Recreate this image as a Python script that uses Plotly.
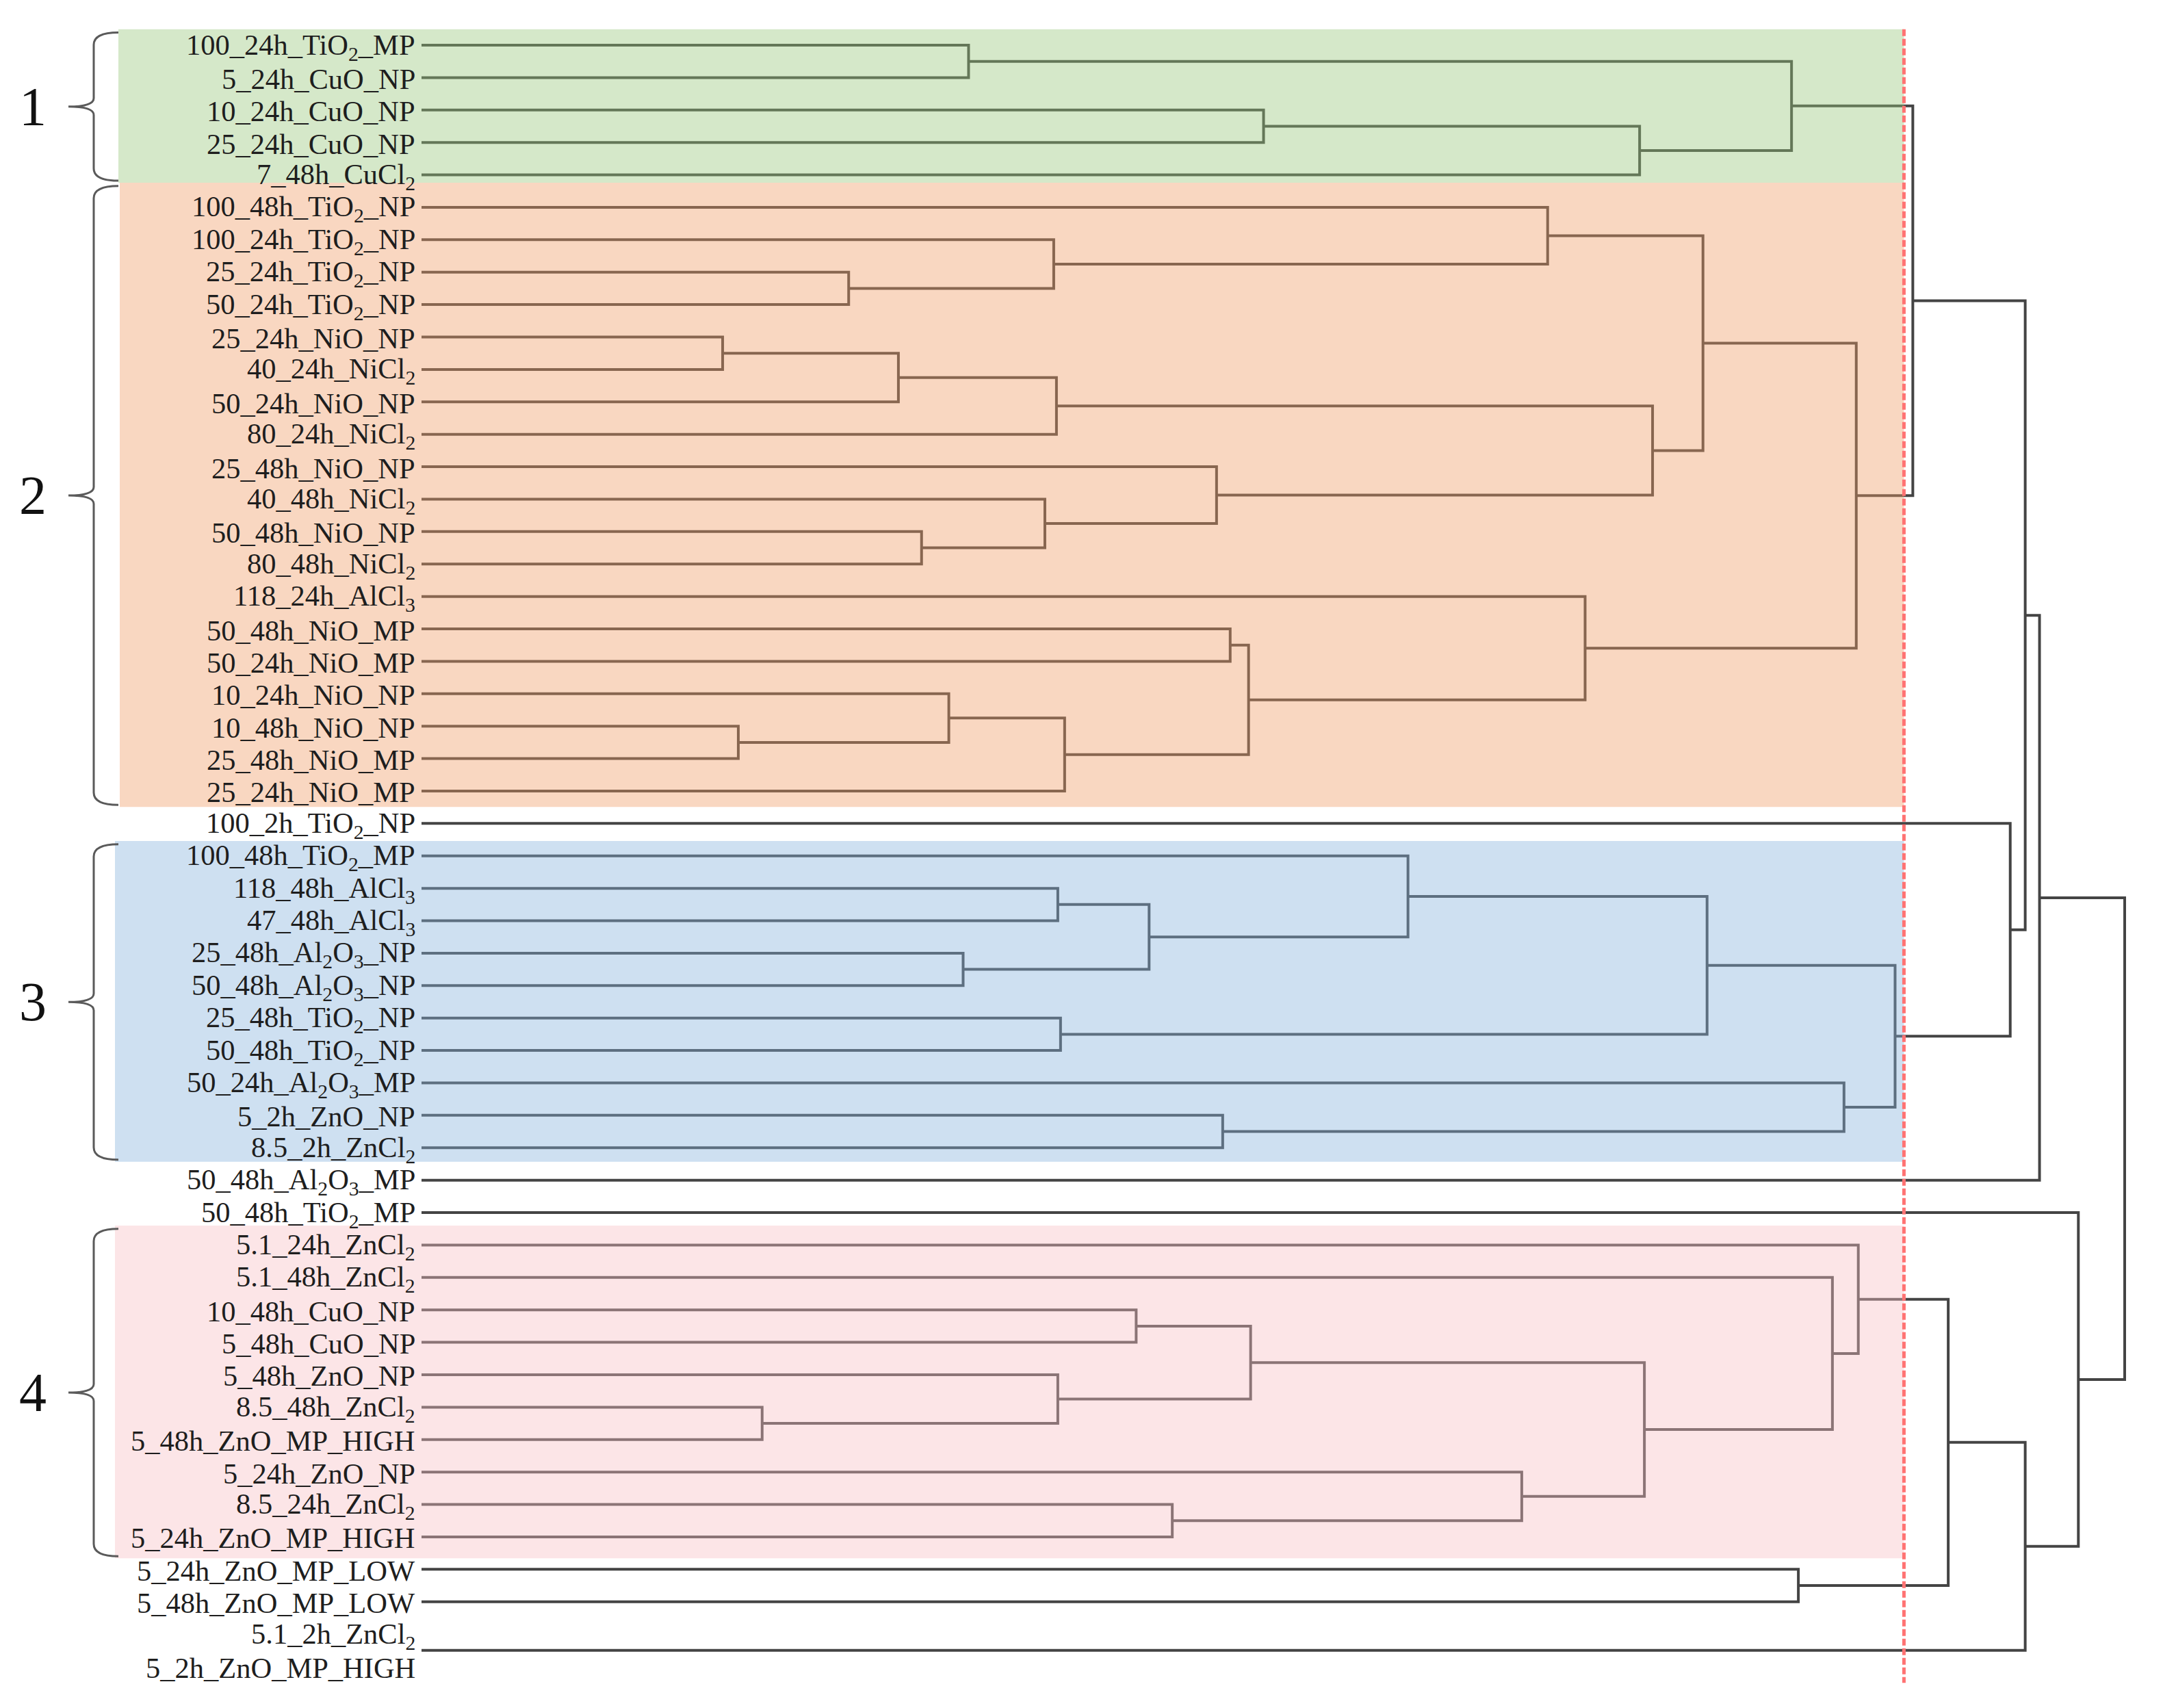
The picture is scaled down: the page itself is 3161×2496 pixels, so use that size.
import plotly.graph_objects as go

# ---------------- data ----------------
LEAF_LABELS = [
    "100_24h_TiO<sub>2</sub>_MP", "5_24h_CuO_NP", "10_24h_CuO_NP", "25_24h_CuO_NP",
    "7_48h_CuCl<sub>2</sub>",
    "100_48h_TiO<sub>2</sub>_NP", "100_24h_TiO<sub>2</sub>_NP", "25_24h_TiO<sub>2</sub>_NP",
    "50_24h_TiO<sub>2</sub>_NP", "25_24h_NiO_NP", "40_24h_NiCl<sub>2</sub>", "50_24h_NiO_NP",
    "80_24h_NiCl<sub>2</sub>", "25_48h_NiO_NP", "40_48h_NiCl<sub>2</sub>", "50_48h_NiO_NP",
    "80_48h_NiCl<sub>2</sub>", "118_24h_AlCl<sub>3</sub>", "50_48h_NiO_MP", "50_24h_NiO_MP",
    "10_24h_NiO_NP", "10_48h_NiO_NP", "25_48h_NiO_MP", "25_24h_NiO_MP",
    "100_2h_TiO<sub>2</sub>_NP",
    "100_48h_TiO<sub>2</sub>_MP", "118_48h_AlCl<sub>3</sub>", "47_48h_AlCl<sub>3</sub>",
    "25_48h_Al<sub>2</sub>O<sub>3</sub>_NP", "50_48h_Al<sub>2</sub>O<sub>3</sub>_NP",
    "25_48h_TiO<sub>2</sub>_NP", "50_48h_TiO<sub>2</sub>_NP",
    "50_24h_Al<sub>2</sub>O<sub>3</sub>_MP", "5_2h_ZnO_NP", "8.5_2h_ZnCl<sub>2</sub>",
    "50_48h_Al<sub>2</sub>O<sub>3</sub>_MP", "50_48h_TiO<sub>2</sub>_MP",
    "5.1_24h_ZnCl<sub>2</sub>", "5.1_48h_ZnCl<sub>2</sub>", "10_48h_CuO_NP", "5_48h_CuO_NP",
    "5_48h_ZnO_NP", "8.5_48h_ZnCl<sub>2</sub>", "5_48h_ZnO_MP_HIGH", "5_24h_ZnO_NP",
    "8.5_24h_ZnCl<sub>2</sub>", "5_24h_ZnO_MP_HIGH",
    "5_24h_ZnO_MP_LOW", "5_48h_ZnO_MP_LOW", "5.1_2h_ZnCl<sub>2</sub>", "5_2h_ZnO_MP_HIGH",
]

# linkage: ids < 51 are leaves, id 51+k is the k-th merge
MERGE_LEFT = [0, 2, 52, 51, 7, 6, 5, 9, 58, 59, 15, 14, 13, 60, 57, 18, 21, 20, 68, 66,
              17, 65, 54, 26, 28, 74, 25, 30, 77, 33, 32, 79, 24, 73, 84, 39, 42, 41, 86,
              45, 44, 89, 38, 37, 47, 94, 49, 96, 36, 85]
MERGE_RIGHT = [1, 3, 4, 53, 8, 55, 56, 10, 11, 12, 16, 61, 62, 63, 64, 19, 22, 67, 23, 69,
               70, 71, 72, 27, 29, 75, 76, 31, 78, 34, 80, 81, 82, 83, 35, 40, 43, 87, 88,
               46, 90, 91, 92, 93, 48, 95, 50, 97, 98, 99]
MERGE_HEIGHT = [8.03, 12.36, 17.88, 20.11, 6.27, 9.28, 16.53, 4.42, 7.00, 9.32, 7.34, 9.15,
                11.67, 18.07, 18.81, 11.87, 4.65, 7.74, 9.44, 12.14, 17.08, 21.06, 21.89,
                9.34, 7.95, 10.68, 14.48, 9.38, 18.87, 11.76, 20.88, 21.63, 23.32, 23.54,
                23.75, 10.49, 5.00, 9.34, 12.17, 11.02, 16.15, 17.95, 20.71, 21.09, 20.21,
                22.41, 0.0, 23.54, 24.32, 25.00]
CUT_HEIGHT = 21.76

CLUSTER_NAMES = ["1", "2", "3", "4"]
CLUSTER_FIRST = [0, 5, 25, 37]
CLUSTER_LAST = [4, 23, 34, 46]

# ---------------- styling / layout constants ----------------
PAGE_W, PAGE_H = 3161, 2496
BODY_MARGIN = 8                    # default page margin around the figure
W, H = PAGE_W - 2 * BODY_MARGIN, PAGE_H - 2 * BODY_MARGIN
X0_PX, X_UNIT = 616.0, 99.56       # page pixel of distance 0, pixels per distance unit
Y0_PX, Y_UNIT = 66.0, 47.39        # page pixel of first leaf, pixels per leaf
BAND_PAD_TOP = [0.49, 0.76, 0.46, 0.60]
BAND_PAD_BOT = [0.24, 0.49, 0.43, 0.66]
BAND_LEFT_PX = [173, 175, 168, 168]
BAND_COLORS = ["rgb(150,198,120)", "rgb(240,155,100)", "rgb(132,178,220)", "rgb(248,190,195)"]
BAND_OPACITY = 0.4
LINE_COLOR = "#444444"
SERIF = "Liberation Serif, Times New Roman, serif"


def dx(px):
    return (px - X0_PX) / X_UNIT


def dy(py):
    return (py - Y0_PX) / Y_UNIT


# ---------------- build dendrogram segments ----------------
n = len(LEAF_LABELS)
pos = {i: (0.0, float(i)) for i in range(n)}
xs, ys = [], []
for k, (a, b, h) in enumerate(zip(MERGE_LEFT, MERGE_RIGHT, MERGE_HEIGHT)):
    ha, ya = pos[a]
    hb, yb = pos[b]
    if h > 0:
        xs += [ha, h, h, hb, None]
        ys += [ya, ya, yb, yb, None]
    pos[n + k] = (h, (ya + yb) / 2)

fig = go.Figure()
fig.add_trace(go.Scatter(
    x=xs, y=ys, mode="lines",
    line=dict(color=LINE_COLOR, width=4),
    hoverinfo="skip", showlegend=False,
))

shapes = []
annotations = []

# coloured cluster bands (semi-transparent, over the tree lines)
for c in range(len(CLUSTER_NAMES)):
    y0 = CLUSTER_FIRST[c] - BAND_PAD_TOP[c]
    y1 = CLUSTER_LAST[c] + BAND_PAD_BOT[c]
    shapes.append(dict(
        type="rect", xref="x", yref="y",
        x0=dx(BAND_LEFT_PX[c]), x1=CUT_HEIGHT, y0=y0, y1=y1,
        fillcolor=BAND_COLORS[c], opacity=BAND_OPACITY,
        line=dict(width=0), layer="above",
    ))
    # curly brace
    yt = y0 + 0.10
    yb = y1 - 0.06
    ym = (yt + yb) / 2
    xa, xb, xt = dx(173), dx(137), dx(100)
    r = 0.38
    r2 = 0.26
    path = (f"M {xa},{yt} Q {xb},{yt} {xb},{yt + r} L {xb},{ym - r2} "
            f"Q {xb},{ym} {xt},{ym} Q {xb},{ym} {xb},{ym + r2} "
            f"L {xb},{yb - r} Q {xb},{yb} {xa},{yb}")
    shapes.append(dict(type="path", xref="x", yref="y", path=path,
                       line=dict(color="#5a5a5a", width=3), layer="above"))
    annotations.append(dict(
        x=dx(48), y=ym, xref="x", yref="y", text=CLUSTER_NAMES[c],
        showarrow=False, xanchor="center", yanchor="middle",
        font=dict(family=SERIF, size=80, color="#111111"),
    ))

# red dashed cut line
shapes.append(dict(
    type="line", xref="x", yref="y",
    x0=CUT_HEIGHT, x1=CUT_HEIGHT, y0=-0.49, y1=50.5,
    line=dict(color="rgb(255,115,115)", width=5, dash="10px,4px"), layer="above",
))

# leaf labels
for i, lab in enumerate(LEAF_LABELS):
    annotations.append(dict(
        x=dx(609), y=i, xref="x", yref="y", text=lab,
        showarrow=False, xanchor="right", yanchor="middle", yshift=-2,
        font=dict(family=SERIF, size=42.5, color="#1e1e1e"),
    ))

fig.update_layout(
    width=W, height=H, autosize=False,
    margin=dict(l=0, r=0, t=0, b=0, pad=0),
    paper_bgcolor="white", plot_bgcolor="white",
    xaxis=dict(range=[dx(BODY_MARGIN), dx(BODY_MARGIN + W)], visible=False, fixedrange=True),
    yaxis=dict(range=[dy(BODY_MARGIN + H), dy(BODY_MARGIN)], visible=False, fixedrange=True),
    shapes=shapes, annotations=annotations,
    showlegend=False,
)

fig.write_html("out.html")
